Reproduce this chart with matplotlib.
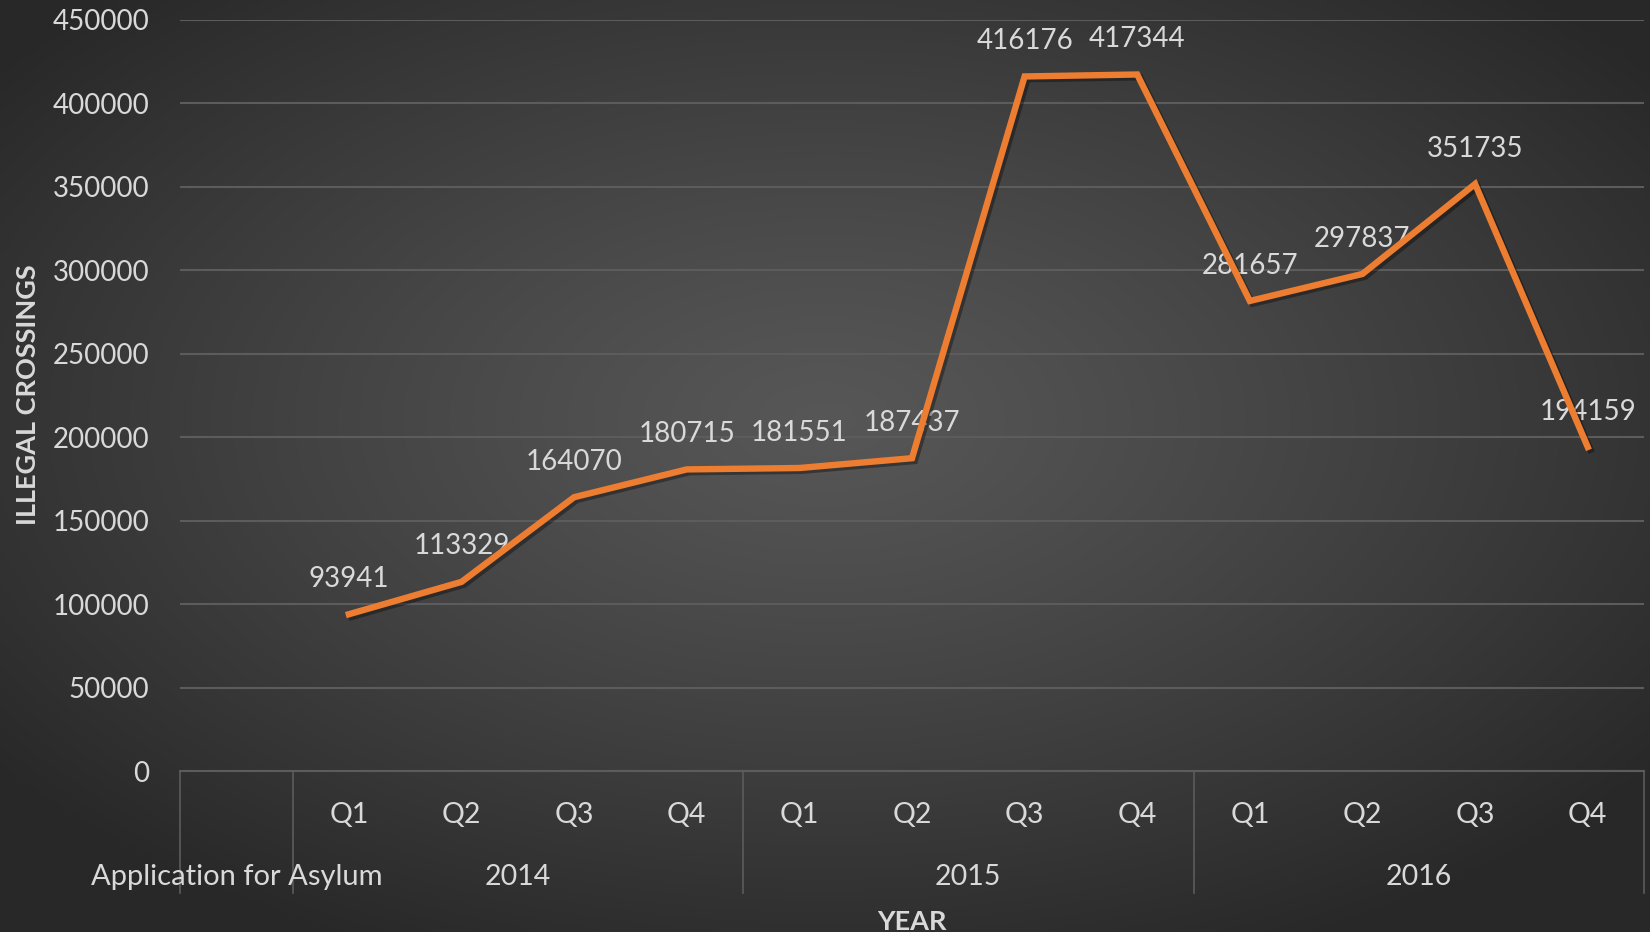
import matplotlib.pyplot as plt
import matplotlib.patheffects as pe
import numpy as np

plt.rcParams["font.family"] = ["Lato", "DejaVu Sans"]

# Data
years = ["2014", "2015", "2016"]
quarters = ["Q1", "Q2", "Q3", "Q4"]
crossings = [93941, 113329, 164070, 180715,
             181551, 187437, 416176, 417344,
             281657, 297837, 351735, 194159]
first_label = "Application for Asylum"
y_ticks = [0, 50000, 100000, 150000, 200000, 250000, 300000, 350000, 400000, 450000]

TEXT = "#d9d9d9"
GRID = "#5c5c5c"
ORANGE = "#ed7d31"


def main() -> None:
    fig = plt.figure(figsize=(16.5, 9.32), dpi=100)

    # radial gradient background
    bg = fig.add_axes([0, 0, 1, 1], zorder=-10)
    gx, gy = np.meshgrid(np.linspace(-1, 1, 400), np.linspace(-1, 1, 240))
    r = np.sqrt((gx + 0.0) ** 2 + (gy + 0.1) ** 2)
    r = np.clip(r / 1.25, 0, 1)
    shade = 0.34 - (0.34 - 0.16) * r ** 1.2
    img = np.dstack([shade, shade, shade])
    bg.imshow(img, aspect="auto", extent=[0, 1, 0, 1], interpolation="bicubic")
    bg.axis("off")

    ax = fig.add_axes([180 / 1650, 1 - 771 / 932, 1464 / 1650, 751 / 932])
    ax.set_facecolor("none")

    x = np.arange(1, len(crossings) + 1)
    ax.plot(x, crossings, color=ORANGE, linewidth=4.6, solid_joinstyle="miter",
            zorder=5,
            path_effects=[pe.SimpleLineShadow(offset=(2, -2), alpha=0.35,
                                              shadow_color="black"),
                          pe.Normal()])

    for xi, v in zip(x, crossings):
        ax.annotate(str(v), (xi, v), xytext=(0, 25.5), textcoords="offset points",
                    ha="center", va="center", color=TEXT, fontsize=20, zorder=3)

    ax.set_xlim(-0.5, 12.5)
    ax.set_ylim(0, 450000)
    ax.set_yticks(y_ticks)
    ax.set_yticklabels([str(t) for t in y_ticks])
    ax.tick_params(axis="y", length=0, pad=22, labelcolor=TEXT, labelsize=20)
    ax.set_xticks([])
    ax.grid(axis="y", color=GRID, linewidth=1.5)
    ax.set_axisbelow(True)
    for side in ["top", "right", "left"]:
        ax.spines[side].set_visible(False)
    ax.spines["bottom"].set_color(GRID)
    ax.spines["bottom"].set_linewidth(1.5)

    trans = ax.get_xaxis_transform()
    # category separators
    for sx in [-0.5, 0.5, 4.5, 8.5, 12.5]:
        ax.plot([sx, sx], [0, -0.1625], transform=trans, color=GRID,
                linewidth=1.2, clip_on=False)

    # quarter labels
    for i, xi in enumerate(x):
        ax.text(xi, -0.0585, quarters[i % 4], transform=trans, ha="center",
                va="center", color=TEXT, fontsize=20.5)

    # year labels
    ax.text(0, -0.1415, first_label, transform=trans, ha="center", va="center",
            color=TEXT, fontsize=21)
    for j, yr in enumerate(years):
        ax.text(2.5 + 4 * j, -0.1415, yr, transform=trans, ha="center",
                va="center", color=TEXT, fontsize=20.5)

    ax.text(0.5, -0.2005, "YEAR", transform=ax.transAxes, ha="center",
            va="center", color=TEXT, fontsize=19.5, fontweight="bold")
    fig.text(28 / 1650, 1 - 395 / 932, "ILLEGAL CROSSINGS", rotation=90,
             ha="center", va="center", color=TEXT, fontsize=19.5,
             fontweight="bold")

    fig.savefig("out.png", dpi=100)


if __name__ == "__main__":
    main()
